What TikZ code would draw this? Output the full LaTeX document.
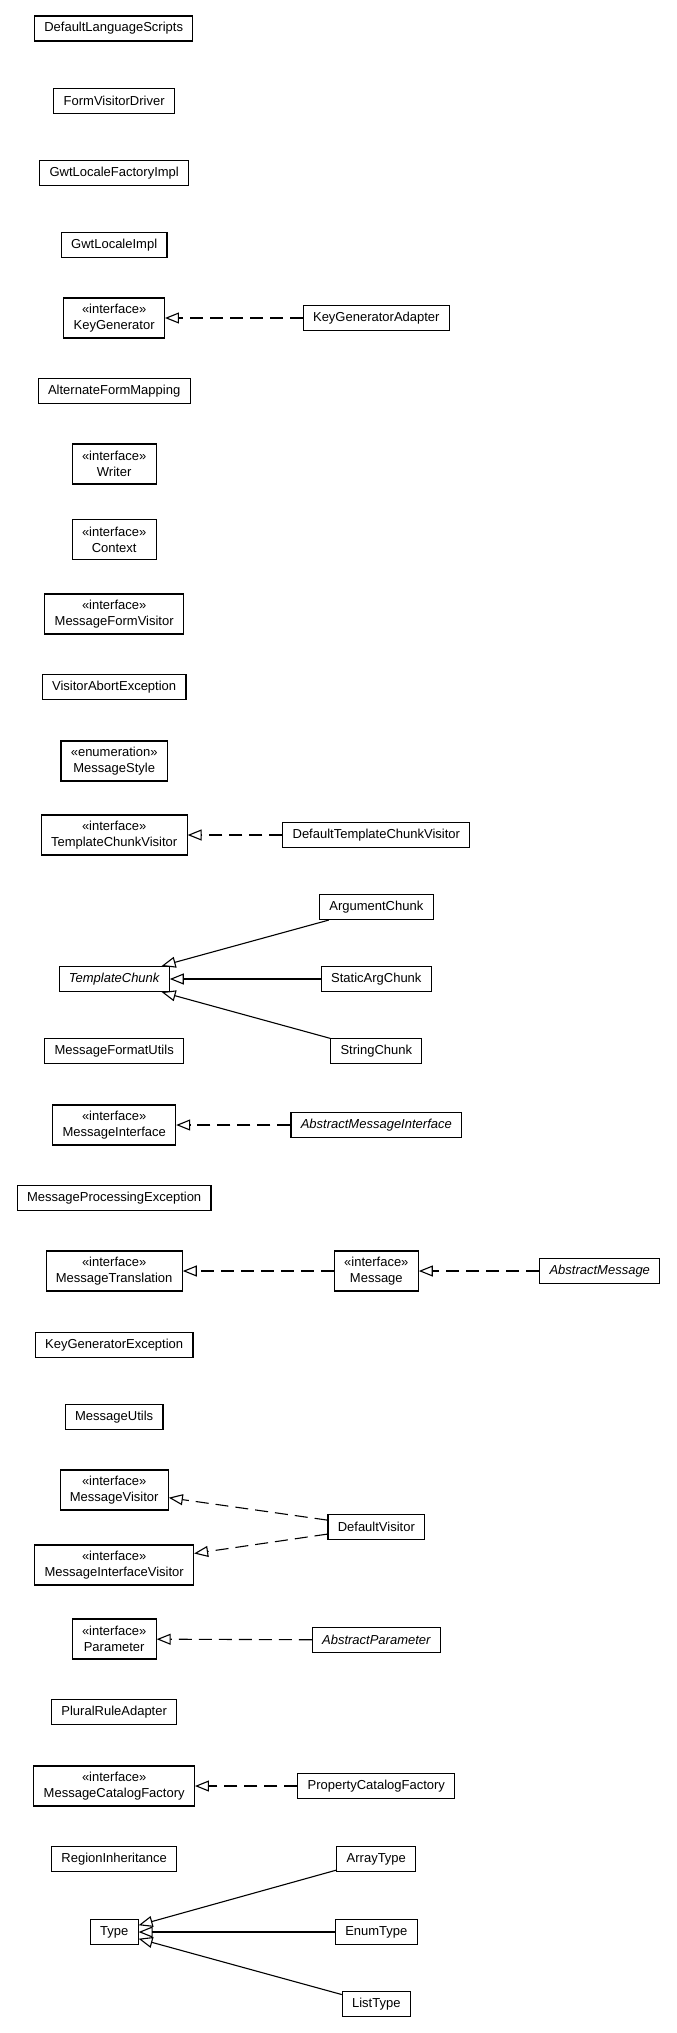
\documentclass[tikz,border=0pt]{standalone}
\usepackage{fontspec}
\setmainfont{Liberation Sans}
\usetikzlibrary{arrows.meta}
\begin{document}
\begin{tikzpicture}[x=0.98pt,y=-1pt,
  cls/.style={draw, line width=1.1pt, inner xsep=9.8pt, inner ysep=0pt, minimum height=25pt,
    font=\fontsize{13}{16}\selectfont, align=center},
  ifc/.style={cls, minimum height=40pt},
  abs/.style={cls, font=\fontsize{13}{16}\selectfont\itshape},
  realize/.style={draw, line width=1.1pt, dash pattern=on 13pt off 7pt, -{Triangle[open,length=14pt,width=11pt]}},
  inherit/.style={draw, line width=1.1pt, -{Triangle[open,length=14pt,width=11pt]}}]
\useasboundingbox (0,0) rectangle (689.8,2033);
\node[cls] (dls) at (116,28.5) {DefaultLanguageScripts};
\node[cls] (fvd) at (116.5,101) {FormVisitorDriver};
\node[cls] (glf) at (116.5,173) {GwtLocaleFactoryImpl};
\node[cls] (gli) at (116.5,245) {GwtLocaleImpl};
\node[ifc] (kg) at (116.5,318) {«interface»\\KeyGenerator};
\node[cls] (kga) at (384,318) {KeyGeneratorAdapter};
\node[cls] (afm) at (116.5,391) {AlternateFormMapping};
\node[ifc] (wr) at (116.5,464) {«interface»\\Writer};
\node[ifc] (ctx) at (116.5,539.5) {«interface»\\Context};
\node[ifc] (mfv) at (116.5,614) {«interface»\\MessageFormVisitor};
\node[cls] (vae) at (116.5,687) {VisitorAbortException};
\node[ifc] (ms) at (116.5,761) {«enumeration»\\MessageStyle};
\node[ifc] (tcv) at (116.5,835) {«interface»\\TemplateChunkVisitor};
\node[cls] (dtcv) at (384,835) {DefaultTemplateChunkVisitor};
\node[cls] (ac) at (384,907) {ArgumentChunk};
\node[abs] (tc) at (116.5,979) {TemplateChunk};
\node[cls] (sac) at (384,979) {StaticArgChunk};
\node[cls] (mfu) at (116.5,1051) {MessageFormatUtils};
\node[cls] (sc) at (384,1051) {StringChunk};
\node[ifc] (mi) at (116.5,1125) {«interface»\\MessageInterface};
\node[abs] (ami) at (384,1125) {AbstractMessageInterface};
\node[cls] (mpe) at (116.5,1198) {MessageProcessingException};
\node[ifc] (mt) at (116.5,1271) {«interface»\\MessageTranslation};
\node[ifc] (msg) at (384,1271) {«interface»\\Message};
\node[abs] (am) at (612,1271) {AbstractMessage};
\node[cls] (kge) at (116.5,1345) {KeyGeneratorException};
\node[cls] (mu) at (116.5,1417) {MessageUtils};
\node[ifc] (mv) at (116.5,1490) {«interface»\\MessageVisitor};
\node[cls] (dv) at (384,1527) {DefaultVisitor};
\node[ifc] (miv) at (116.5,1565) {«interface»\\MessageInterfaceVisitor};
\node[ifc] (par) at (116.5,1639) {«interface»\\Parameter};
\node[abs] (ap) at (384,1640) {AbstractParameter};
\node[cls] (pra) at (116.5,1712) {PluralRuleAdapter};
\node[ifc] (mcf) at (116.5,1786) {«interface»\\MessageCatalogFactory};
\node[cls] (pcf) at (384,1786) {PropertyCatalogFactory};
\node[cls] (ri) at (116.5,1859) {RegionInheritance};
\node[cls] (at) at (384,1859) {ArrayType};
\node[cls] (ty) at (116.5,1932) {Type};
\node[cls] (et) at (384,1932) {EnumType};
\node[cls] (lt) at (384,2004) {ListType};
\draw[realize] (kga) -- (kg);
\draw[realize] (dtcv) -- (tcv);
\draw[inherit] (ac) -- (tc);
\draw[inherit] (sac) -- (tc);
\draw[inherit] (sc) -- (tc);
\draw[realize] (ami) -- (mi);
\draw[realize] (msg) -- (mt);
\draw[realize] (am) -- (msg);
\draw[realize] (dv) -- (mv);
\draw[realize] (dv) -- (miv);
\draw[realize] (ap) -- (par);
\draw[realize] (pcf) -- (mcf);
\draw[inherit] (at) -- (ty);
\draw[inherit] (et) -- (ty);
\draw[inherit] (lt) -- (ty);
\end{tikzpicture}
\end{document}
